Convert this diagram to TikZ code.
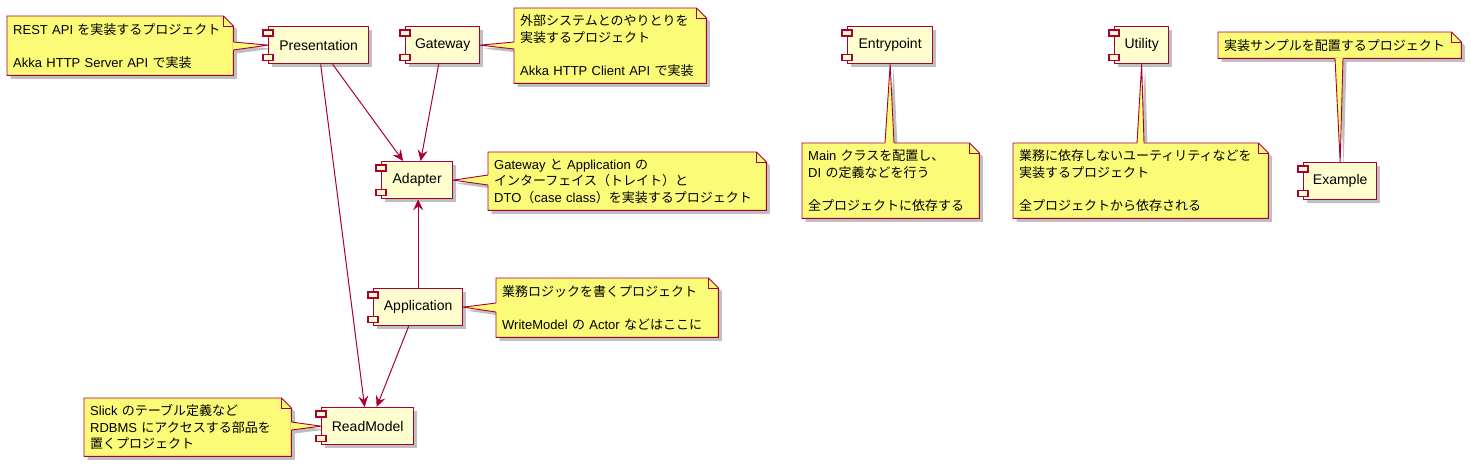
\documentclass[tikz,border=0pt]{standalone}
\usepackage{fontspec}
\setmainfont{Liberation Sans}
\newfontfamily\jp{Noto Sans CJK JP}
\newcommand\J[1]{{\jp #1}}
\usetikzlibrary{calc,shadows,arrows.meta}
\definecolor{compbg}{HTML}{FEFECE}
\definecolor{notebg}{HTML}{FBFB77}
\definecolor{umlborder}{HTML}{A80036}
\pgfdeclarelayer{background}
\pgfsetlayers{background,main}
\tikzset{
  myshadow/.style={drop shadow={shadow xshift=3.5pt,shadow yshift=-3.5pt,opacity=0.25,fill=black}},
  comp/.style={draw=umlborder,fill=compbg,line width=1.3pt,minimum height=37pt,inner sep=0pt,
    anchor=north west,font=\fontsize{14}{16}\selectfont,myshadow},
  plug/.style={draw=umlborder,fill=compbg,line width=1.1pt},
  note/.style={anchor=north west,align=left,inner xsep=6pt,inner ysep=0pt,
    font=\fontsize{13}{16.5}\selectfont},
  noteout/.style={draw=umlborder,fill=notebg,line width=0.9pt},
  arr/.style={draw=umlborder,line width=1pt,-{Stealth[length=11pt,width=10pt,inset=4pt]}},
}
\newcommand\plugs[1]{%
  \filldraw[plug] ($(#1.north west)+(-5,4)$) rectangle ++(10,6);
  \filldraw[plug] ($(#1.south west)+(-5,-10)$) rectangle ++(10,6);}
\newcommand\noteoutline[1]{%
  \path[noteout,myshadow] (#1.north west) -- ($(#1.north east)+(-10,0)$) -- ($(#1.north east)+(0,10)$)
    -- (#1.south east) -- (#1.south west) -- cycle;
  \draw[umlborder,line width=0.9pt] ($(#1.north east)+(-10,0)$) -- ++(0,10) -- ++(10,0);}
\newcommand\wedgeshadow[3]{\path[fill=notebg,myshadow] (#1) -- (#3) -- (#2) -- cycle;}
\newcommand\wedgetop[3]{%
  \draw[notebg,line width=1.6pt] (#1) -- (#2);
  \fill[notebg] (#1) -- (#3) -- (#2) -- cycle;
  \draw[umlborder,line width=0.9pt,line join=miter] (#1) -- (#3) -- (#2);}
\begin{document}
\begin{tikzpicture}[x=1pt,y=-1pt]
\useasboundingbox (0,0) rectangle (1471,467);
% components
\node[comp,minimum width=100pt] (pres) at (268,26) {Presentation};
\node[comp,minimum width=74pt] (gw) at (405,26) {Gateway};
\node[comp,minimum width=71pt] (adp) at (381,161) {Adapter};
\node[comp,minimum width=89pt] (app) at (373,288) {Application};
\node[comp,minimum width=92pt] (rm) at (321,407) {ReadModel};
\node[comp,minimum width=85pt] (ep) at (847,26) {Entrypoint};
\node[comp,minimum width=54pt] (ut) at (1114,26) {Utility};
\node[comp,minimum width=73pt] (ex) at (1303,162) {Example};
\foreach \c in {pres,gw,adp,app,rm,ep,ut,ex} {\plugs{\c}}
% notes
\node[note,text width=214pt,minimum height=59pt] (pn) at (7,16)
  {REST API \J{を実装するプロジェクト}\\[16.5pt]Akka HTTP Server API \J{で実装}};
\node[note,text width=180pt,minimum height=75pt] (gn) at (514,8)
  {\J{外部システムとのやりとりを}\\\J{実装するプロジェクト}\\[16.5pt]Akka HTTP Client API \J{で実装}};
\node[note,text width=266pt,minimum height=58pt] (an) at (488,152)
  {Gateway \J{と} Application \J{の}\\\J{インターフェイス（トレイト）と}\\DTO\J{（}case class\J{）を実装するプロジェクト}};
\node[note,text width=210pt,minimum height=59pt] (apn) at (496,278)
  {\J{業務ロジックを書くプロジェクト}\\[16.5pt]WriteModel \J{の} Actor \J{などはここに}};
\node[note,text width=195pt,minimum height=58pt] (rn) at (84,398)
  {Slick \J{のテーブル定義など}\\RDBMS \J{にアクセスする部品を}\\\J{置くプロジェクト}};
\node[note,text width=165pt,minimum height=75pt] (en) at (802,143)
  {Main \J{クラスを配置し、}\\DI \J{の定義などを行う}\\[16.5pt]\J{全プロジェクトに依存する}};
\node[note,text width=243pt,minimum height=75pt] (un) at (1013,143)
  {\J{業務に依存しないユーティリティなどを}\\\J{実装するプロジェクト}\\[16.5pt]\J{全プロジェクトから依存される}};
\node[note,text width=231pt,minimum height=26pt] (xn) at (1218,32)
  {\J{実装サンプルを配置するプロジェクト}};
% wedge base points
\coordinate (pnA) at ($(pn.north east)+(0,26)$);  \coordinate (pnB) at ($(pn.north east)+(0,34)$);
\coordinate (gnA) at ($(gn.north west)+(0,34)$);  \coordinate (gnB) at ($(gn.north west)+(0,41)$);
\coordinate (anA) at ($(an.north west)+(0,23)$);  \coordinate (anB) at ($(an.north west)+(0,33)$);
\coordinate (apnA) at ($(apn.north west)+(0,25)$); \coordinate (apnB) at ($(apn.north west)+(0,34)$);
\coordinate (rnA) at ($(rn.north east)+(0,24)$);  \coordinate (rnB) at ($(rn.north east)+(0,32)$);
\coordinate (enA) at ($(en.north west)+(83,0)$);  \coordinate (enB) at ($(en.north west)+(92,0)$);
\coordinate (unA) at ($(un.north west)+(124,0)$); \coordinate (unB) at ($(un.north west)+(131,0)$);
\coordinate (xnA) at ($(xn.south west)+(117,0)$); \coordinate (xnB) at ($(xn.south west)+(125,0)$);
\begin{pgfonlayer}{background}
  \wedgeshadow{pnA}{pnB}{pres.west}
  \wedgeshadow{gnA}{gnB}{gw.east}
  \wedgeshadow{anA}{anB}{adp.east}
  \wedgeshadow{apnA}{apnB}{app.east}
  \wedgeshadow{rnA}{rnB}{rm.west}
  \wedgeshadow{enA}{enB}{ep.south}
  \wedgeshadow{unA}{unB}{ut.south}
  \wedgeshadow{xnA}{xnB}{ex.north}
  \foreach \n in {pn,gn,an,apn,rn,en,un,xn} {\noteoutline{\n}}
  \wedgetop{pnA}{pnB}{pres.west}
  \wedgetop{gnA}{gnB}{gw.east}
  \wedgetop{anA}{anB}{adp.east}
  \wedgetop{apnA}{apnB}{app.east}
  \wedgetop{rnA}{rnB}{rm.west}
  \wedgetop{enA}{enB}{ep.south}
  \wedgetop{unA}{unB}{ut.south}
  \wedgetop{xnA}{xnB}{ex.north}
\end{pgfonlayer}
% dependencies
\draw[arr] ($(pres.south)+(14,0)$) -- ($(adp.north)+(-14,0)$);
\draw[arr] ($(gw.south)+(-4,0)$) -- ($(adp.north)+(3.5,0)$);
\draw[arr] (app.north) -- (app.north |- adp.south);
\draw[arr] ($(pres.south)+(2,0)$) -- ($(rm.north)+(-3,0)$);
\draw[arr] ($(app.south)+(-9.5,0)$) -- ($(rm.north)+(9,0)$);
\end{tikzpicture}
\end{document}
